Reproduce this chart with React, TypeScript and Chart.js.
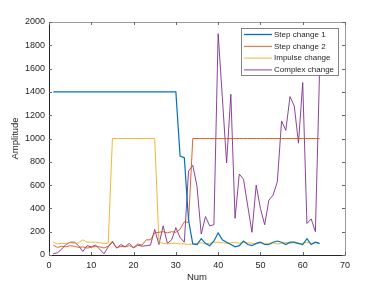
import React, { useEffect, useRef } from "react";
import { Chart, registerables } from "chart.js";

Chart.register(...registerables);

const seriesLabels = ["Step change 1", "Step change 2", "Impulse change", "Complex change"];
const seriesColors = ["#0072BD", "#D95319", "#EDB120", "#7E2F8E"];

const stepChange1 = [
  1400, 1400, 1400, 1400, 1400, 1400, 1400, 1400, 1400, 1400,
  1400, 1400, 1400, 1400, 1400, 1400, 1400, 1400, 1400, 1400,
  1400, 1400, 1400, 1400, 1400, 1400, 1400, 1400, 1400, 1400,
  850, 835, 300, 95, 90, 140, 100, 80, 120, 190,
  130, 110, 90, 70, 80, 120, 90, 80, 100, 110,
  90, 90, 110, 120, 110, 90, 110, 110, 100, 90,
  140, 90, 110, 100,
];

const stepChange2 = [
  85, 65, 75, 70, 80, 75, 65, 70, 60, 65,
  75, 70, 60, 75, 120, 60, 75, 70, 80, 65,
  95, 85, 130, 130, 190, 195, 200, 190, 200, 195,
  220, 285, 280, 1000, 1000, 1000, 1000, 1000, 1000, 1000,
  1000, 1000, 1000, 1000, 1000, 1000, 1000, 1000, 1000, 1000,
  1000, 1000, 1000, 1000, 1000, 1000, 1000, 1000, 1000, 1000,
  1000, 1000, 1000, 1000,
];

const impulseChange = [
  110, 95, 100, 100, 105, 100, 105, 130, 110, 110,
  110, 105, 100, 100, 1000, 1000, 1000, 1000, 1000, 1000,
  1000, 1000, 1000, 1000, 1000, 110, 100, 95, 100, 100,
  95, 95, 90, 95, 100, 105, 95, 100, 110, 110,
  105, 100, 105, 110, 100, 110, 105, 100, 95, 105,
  100, 100, 105, 95, 100, 110, 100, 105, 95, 100,
  110, 100, 105, 95,
];

const complexChange = [
  10, 20, 50, 90, 110, 110, 80, 30, 80, 70,
  85, 50, 10, 70, 110, 60, 90, 70, 100, 60,
  85, 75, 80, 85, 220, 90, 250, 100, 130, 235,
  150, 110, 720, 770, 590, 180, 330, 250, 260, 1900,
  1350, 790, 1380, 315, 695, 650, 420, 195, 600, 400,
  260, 470, 515, 630, 1150, 1070, 1360, 1280, 960, 1480,
  270, 310, 200, 1600,
];

const xTicks = [0, 10, 20, 30, 40, 50, 60, 70];
const yTicks = [0, 200, 400, 600, 800, 1000, 1200, 1400, 1600, 1800, 2000];

const FONT = "'Liberation Sans', Arial, Helvetica, sans-serif";
const AXIS_COLOR = "#262626";

const boxPlugin = {
  id: "matlabBox",
  afterDraw(chart: any) {
    const { ctx, chartArea } = chart;
    const { left, right, top, bottom } = chartArea;
    const xs = chart.scales.x;
    const ys = chart.scales.y;
    ctx.save();
    ctx.lineWidth = 1;
    ctx.strokeStyle = "#9a9a9a";
    ctx.beginPath();
    ctx.moveTo(left, top + 0.5);
    ctx.lineTo(right + 0.5, top + 0.5);
    ctx.lineTo(right + 0.5, bottom);
    ctx.stroke();
    ctx.strokeStyle = AXIS_COLOR;
    ctx.beginPath();
    ctx.moveTo(left + 0.5, top);
    ctx.lineTo(left + 0.5, bottom + 0.5);
    ctx.lineTo(right + 0.5, bottom + 0.5);
    ctx.stroke();
    const tl = 3;
    ctx.strokeStyle = "#666";
    ctx.beginPath();
    xTicks.forEach((v) => {
      const px = Math.round(xs.getPixelForValue(v)) + 0.5;
      ctx.moveTo(px, bottom);
      ctx.lineTo(px, bottom - tl);
      ctx.moveTo(px, top);
      ctx.lineTo(px, top + tl);
    });
    yTicks.forEach((v) => {
      const py = Math.round(ys.getPixelForValue(v)) + 0.5;
      ctx.moveTo(left, py);
      ctx.lineTo(left + tl, py);
      ctx.moveTo(right, py);
      ctx.lineTo(right - tl, py);
    });
    ctx.stroke();

    const lx = 241.5, ly = 28.5, lw = 97, lh = 47;
    ctx.fillStyle = "#ffffff";
    ctx.fillRect(lx, ly, lw, lh);
    ctx.strokeStyle = "#666";
    ctx.lineWidth = 0.8;
    ctx.strokeRect(lx, ly, lw, lh);
    ctx.font = `8px ${FONT}`;
    ctx.textBaseline = "middle";
    ctx.textAlign = "left";
    chart.data.datasets.forEach((ds: any, i: number) => {
      const y = 34.5 + i * 11.8;
      ctx.strokeStyle = ds.borderColor;
      ctx.lineWidth = i === 0 ? 1.3 : 0.9;
      ctx.beginPath();
      ctx.moveTo(244, y);
      ctx.lineTo(272, y);
      ctx.stroke();
      ctx.fillStyle = AXIS_COLOR;
      ctx.fillText(ds.label, 274, y);
    });
    ctx.restore();
  },
};

export default function App() {
  const ref = useRef<HTMLCanvasElement | null>(null);

  useEffect(() => {
    if (!ref.current) return;
    const seriesData = [stepChange1, stepChange2, impulseChange, complexChange];
    const chart = new Chart(ref.current, {
      type: "line",
      data: {
        datasets: seriesData.map((arr, i) => ({
          label: seriesLabels[i],
          data: arr.map((v, j) => ({ x: j + 1, y: v })),
          borderColor: seriesColors[i],
          backgroundColor: seriesColors[i],
          borderWidth: i === 0 ? 1.2 : 0.9,
          pointRadius: 0,
          tension: 0,
          fill: false,
        })),
      },
      options: {
        responsive: false,
        animation: false,
        events: [],
        layout: { padding: { top: 22, right: 36, left: 0, bottom: 0 } },
        plugins: {
          legend: { display: false },
          tooltip: { enabled: false },
        },
        scales: {
          x: {
            type: "linear",
            min: 0,
            max: 70,
            afterBuildTicks: (s: any) => {
              s.ticks = xTicks.map((v) => ({ value: v }));
            },
            ticks: {
              font: { family: FONT, size: 9 },
              color: AXIS_COLOR,
              padding: 5,
              maxRotation: 0,
              callback: (v: any) => String(v),
            },
            grid: { display: false, drawTicks: false },
            border: { display: false },
            title: {
              display: true,
              text: "Num",
              font: { family: FONT, size: 9.5 },
              color: AXIS_COLOR,
              padding: { top: 0, bottom: 3 },
            },
            afterFit: (s: any) => {
              s.height = 31;
            },
          },
          y: {
            type: "linear",
            min: 0,
            max: 2000,
            afterBuildTicks: (s: any) => {
              s.ticks = yTicks.map((v) => ({ value: v }));
            },
            ticks: {
              font: { family: FONT, size: 9 },
              color: AXIS_COLOR,
              padding: 4,
              callback: (v: any) => String(v),
            },
            grid: { display: false, drawTicks: false },
            border: { display: false },
            title: {
              display: true,
              text: "Amplitude",
              font: { family: FONT, size: 9.5 },
              color: AXIS_COLOR,
              padding: { top: 10, bottom: 0 },
            },
            afterFit: (s: any) => {
              s.width = 49;
            },
          },
        },
      },
      plugins: [boxPlugin],
    });
    return () => chart.destroy();
  }, []);

  return (
    <div style={{ position: "fixed", left: 0, top: 0, width: 381, height: 286, background: "#fff" }}>
      <canvas ref={ref} width={381} height={286} style={{ width: 381, height: 286, display: "block" }} />
    </div>
  );
}
